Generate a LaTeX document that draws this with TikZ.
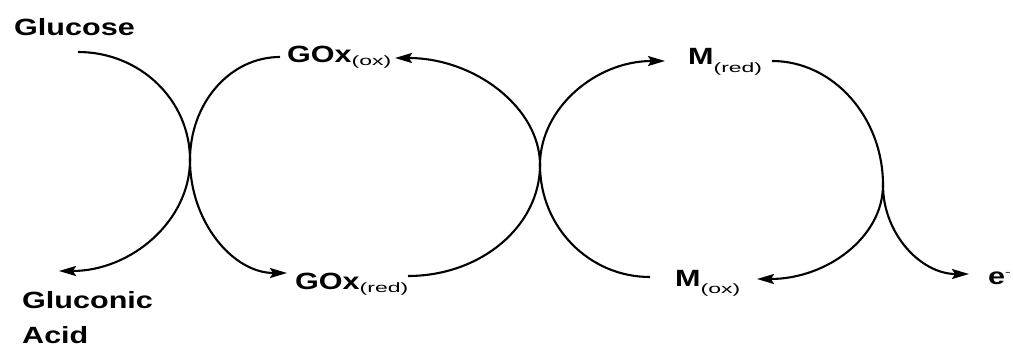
\documentclass[tikz,border=0pt]{standalone}
\usepackage{fontspec}
\usetikzlibrary{arrows.meta}
\newfontfamily\labfont[FakeStretch=1.3]{Liberation Sans}
\newfontfamily\labsubfont[FakeStretch=1.7]{Liberation Sans}
\newcommand\lsub[2]{\raisebox{-#1}{\labsubfont\mdseries\fontsize{13.5}{13.5}\selectfont #2}}
\tikzset{
  lab/.style={inner sep=0pt, font=\labfont\bfseries\fontsize{23.5}{35}\selectfont},
  conn/.style={line width=2.1pt, draw=black},
  arr/.style={conn, -{Stealth[length=17pt,width=10pt,inset=3pt]}}
}
\begin{document}
\begin{tikzpicture}[x=1pt,y=-1pt]
\useasboundingbox (0,0) rectangle (1013,347);
% labels
\node[lab, anchor=base west] (glc) at (14,36) {Glucose};
\node[lab, anchor=north west, align=left] (gla) at (22,291) {Gluconic\\Acid};
\node[lab, anchor=base west] (goxo) at (287,63) {GOx\lsub{3pt}{(ox)}};
\node[lab, anchor=base west] (goxr) at (295,290) {GOx\lsub{3pt}{(red)}};
\node[lab, anchor=base west] (mr) at (688,65) {M\lsub{8pt}{(red)}};
\node[lab, anchor=base west] (mo) at (675,287) {M\lsub{7pt}{(ox)}};
\node[lab, anchor=base west] (el) at (988,285) {e\raisebox{9pt}{\labsubfont\mdseries\fontsize{10}{10}\selectfont -}};
% connector end points
\coordinate (glcE) at (78,52);
\coordinate (glaE) at (59,271);
\coordinate (goxoE) at (280,57);
\coordinate (goxoA) at (395,58);
\coordinate (goxrA) at (287,273);
\coordinate (goxrE) at (408,276);
\coordinate (mrA) at (665,61);
\coordinate (mrE) at (772,61);
\coordinate (moE) at (650,277);
\coordinate (moA) at (757,279);
\coordinate (elA) at (969,274);
\coordinate (X1) at (190,160);
\coordinate (X2) at (540,165);
\coordinate (X3) at (883,185);
% connectors
\draw[arr] (glcE) .. controls (140,52) and (190,100) .. (X1)
                  .. controls (190,221) and (131,271) .. (glaE);
\draw[arr] (goxoE) .. controls (230,57) and (190,103) .. (X1)
                   .. controls (190,222) and (233,273) .. (goxrA);
\draw[arr] (goxrE) .. controls (481,276) and (540,226) .. (X2)
                   .. controls (540,108) and (475,58) .. (goxoA);
\draw[arr] (moE) .. controls (589,277) and (540,227) .. (X2)
                 .. controls (540,108) and (596,61) .. (mrA);
\draw[arr] (mrE) .. controls (833,61) and (883,117) .. (X3)
                 .. controls (883,237) and (827,279) .. (moA);
\draw[arr] (X3) .. controls (883,234) and (921,274) .. (elA);
\end{tikzpicture}
\end{document}
